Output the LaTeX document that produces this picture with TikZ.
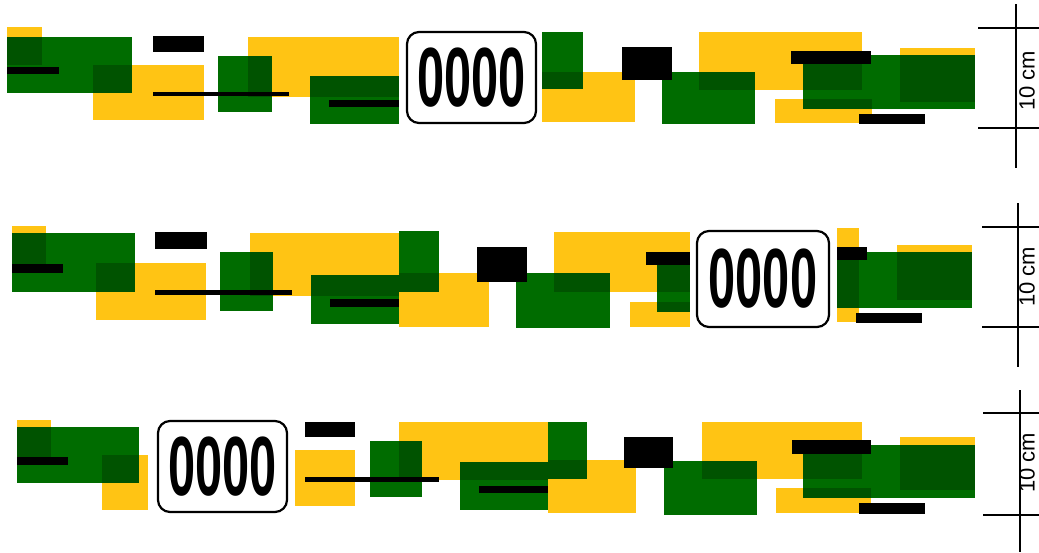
\documentclass[tikz,border=0pt]{standalone}
\usepackage{fontspec}
\setmainfont{Liberation Sans}
\definecolor{yel}{RGB}{255,196,20}
\definecolor{grn}{RGB}{0,108,0}
\tikzset{
  yelbox/.style={fill=yel},
  grnbox/.style={fill=grn},
  blkbar/.style={fill=black},
  tagbox/.style={draw=black, line width=2.2pt, rounded corners=12pt, fill=white,
    inner sep=0pt, font=\bfseries\fontsize{84}{84}\selectfont},
  scalebar/.style={line width=2.6pt},
  scaletext/.style={rotate=90, inner sep=0pt, font=\fontsize{22}{22}\selectfont}
}
\begin{document}
\begin{tikzpicture}[x=1pt,y=-1pt]
\useasboundingbox (0,0) rectangle (1039,552);
% ---------- yellow ----------
% row 1
\fill[yelbox] (7,27) rectangle (42,65);
\fill[yelbox] (93,65) rectangle (204,120);
\fill[yelbox] (248,37) rectangle (399,97);
\fill[yelbox] (542,72) rectangle (635,122);
\fill[yelbox] (699,32) rectangle (862,90);
\fill[yelbox] (775,99) rectangle (872,123);
\fill[yelbox] (900,48) rectangle (975,102);
% row 2
\fill[yelbox] (12,226) rectangle (46,264);
\fill[yelbox] (96,263) rectangle (206,320);
\fill[yelbox] (250,233) rectangle (399,296);
\fill[yelbox] (399,273) rectangle (489,327);
\fill[yelbox] (554,232) rectangle (690,292);
\fill[yelbox] (630,302) rectangle (690,327);
\fill[yelbox] (837,228) rectangle (859,322);
\fill[yelbox] (897,245) rectangle (972,300);
% row 3
\fill[yelbox] (17,420) rectangle (51,457);
\fill[yelbox] (102,455) rectangle (148,510);
\fill[yelbox] (295,450) rectangle (355,506);
\fill[yelbox] (399,422) rectangle (548,480);
\fill[yelbox] (548,460) rectangle (636,513);
\fill[yelbox] (702,422) rectangle (862,479);
\fill[yelbox] (776,488) rectangle (871,513);
\fill[yelbox] (900,437) rectangle (975,490);
% ---------- green (multiplied) ----------
\begin{scope}[blend mode=multiply]
% row 1
\fill[grnbox] (7,37) rectangle (132,93);
\fill[grnbox] (218,56) rectangle (272,112);
\fill[grnbox] (310,76) rectangle (399,124);
\fill[grnbox] (542,32) rectangle (583,89);
\fill[grnbox] (662,72) rectangle (755,124);
\fill[grnbox] (803,55) rectangle (975,109);
% row 2
\fill[grnbox] (12,233) rectangle (135,292);
\fill[grnbox] (220,252) rectangle (273,311);
\fill[grnbox] (311,275) rectangle (399,324);
\fill[grnbox] (399,231) rectangle (439,292);
\fill[grnbox] (516,273) rectangle (610,328);
\fill[grnbox] (657,265) rectangle (690,312);
\fill[grnbox] (837,252) rectangle (972,308);
% row 3
\fill[grnbox] (17,427) rectangle (139,483);
\fill[grnbox] (370,441) rectangle (422,497);
\fill[grnbox] (548,422) rectangle (587,479);
\fill[grnbox] (460,462) rectangle (548,510);
\fill[grnbox] (664,461) rectangle (757,515);
\fill[grnbox] (803,445) rectangle (975,498);
\end{scope}
% ---------- black bars ----------
% row 1
\fill[blkbar] (7,67) rectangle (59,74);
\fill[blkbar] (153,36) rectangle (204,52);
\fill[blkbar] (153,92) rectangle (289,96);
\fill[blkbar] (329,100) rectangle (399,107);
\fill[blkbar] (622,47) rectangle (672,80);
\fill[blkbar] (791,51) rectangle (871,64);
\fill[blkbar] (859,114) rectangle (925,124);
% row 2
\fill[blkbar] (12,264) rectangle (63,273);
\fill[blkbar] (155,232) rectangle (207,249);
\fill[blkbar] (155,290) rectangle (292,295);
\fill[blkbar] (330,299) rectangle (399,307);
\fill[blkbar] (477,247) rectangle (527,282);
\fill[blkbar] (646,252) rectangle (690,265);
\fill[blkbar] (837,247) rectangle (867,260);
\fill[blkbar] (856,313) rectangle (922,323);
% row 3
\fill[blkbar] (17,457) rectangle (68,465);
\fill[blkbar] (305,422) rectangle (355,437);
\fill[blkbar] (305,477) rectangle (439,482);
\fill[blkbar] (479,486) rectangle (548,493);
\fill[blkbar] (624,437) rectangle (673,468);
\fill[blkbar] (792,440) rectangle (871,454);
\fill[blkbar] (859,503) rectangle (925,514);
% ---------- number plates ----------
\node[tagbox, minimum width=129pt, minimum height=91pt] (tag1) at (471.5,77.5) {\scalebox{0.58}[1]{0000}};
\node[tagbox, minimum width=132pt, minimum height=96pt] (tag2) at (763,279) {\scalebox{0.58}[1]{0000}};
\node[tagbox, minimum width=129pt, minimum height=91pt] (tag3) at (222.5,466.5) {\scalebox{0.58}[1]{0000}};
% ---------- scale bars ----------
\coordinate (v1a) at (1016,4);   \coordinate (v1b) at (1016,168);
\coordinate (t1a) at (978,28);   \coordinate (t1b) at (1039,28);
\coordinate (t1c) at (978,128);  \coordinate (t1d) at (1039,128);
\draw[scalebar] (v1a) -- (v1b) (t1a) -- (t1b) (t1c) -- (t1d);
\node[scaletext] (s1) at (1027,81) {10 cm};
\coordinate (v2a) at (1018,203); \coordinate (v2b) at (1018,367);
\coordinate (t2a) at (982,227);  \coordinate (t2b) at (1039,227);
\coordinate (t2c) at (982,327);  \coordinate (t2d) at (1039,327);
\draw[scalebar] (v2a) -- (v2b) (t2a) -- (t2b) (t2c) -- (t2d);
\node[scaletext] (s2) at (1027,277) {10 cm};
\coordinate (v3a) at (1020,390); \coordinate (v3b) at (1020,552);
\coordinate (t3a) at (983,413);  \coordinate (t3b) at (1039,413);
\coordinate (t3c) at (983,515);  \coordinate (t3d) at (1039,515);
\draw[scalebar] (v3a) -- (v3b) (t3a) -- (t3b) (t3c) -- (t3d);
\node[scaletext] (s3) at (1027,463) {10 cm};
\end{tikzpicture}
\end{document}
